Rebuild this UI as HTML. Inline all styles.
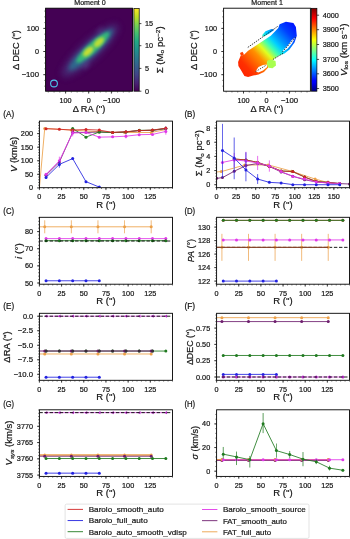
<!DOCTYPE html><html><head><meta charset="utf-8"><style>html,body{margin:0;padding:0;background:#fff;width:350px;height:539px;overflow:hidden}svg{display:block;will-change:transform}text{font-family:"Liberation Sans", sans-serif;stroke:#141414;stroke-width:0.2px}</style></head><body>
<svg width="350" height="539" viewBox="0 0 350 539">
<rect width="350" height="539" fill="#fff"/>
<clipPath id="cA"><rect x="39.4" y="121.1" width="133.1" height="66.6"/></clipPath>
<g clip-path="url(#cA)">
<path d="M39.4,187.9 L44.72,128.44 L71.34,130.07 L97.96,131.7 L124.58,132.51 L151.2,132.51 L165.84,129.53" fill="none" stroke="#eca048" stroke-width="0.85"/>
<circle cx="44.72" cy="128.44" r="1.5" fill="#eca048"/>
<circle cx="71.34" cy="130.07" r="1.5" fill="#eca048"/>
<circle cx="97.96" cy="131.7" r="1.5" fill="#eca048"/>
<circle cx="124.58" cy="132.51" r="1.5" fill="#eca048"/>
<circle cx="151.2" cy="132.51" r="1.5" fill="#eca048"/>
<path d="M46.05,175.14 L59.36,162.11 L72.67,132.24 L85.98,132.51 L99.29,131.97 L112.6,132.51 L125.91,131.97 L139.22,130.61 L152.53,130.34 L165.84,128.71" fill="none" stroke="#6e1e6e" stroke-width="0.85"/>
<line x1="165.84" x2="165.84" y1="131.43" y2="126" stroke="#6e1e6e" stroke-width="0.8" opacity="0.9"/>
<circle cx="46.05" cy="175.14" r="1.5" fill="#6e1e6e"/>
<circle cx="59.36" cy="162.11" r="1.5" fill="#6e1e6e"/>
<circle cx="72.67" cy="132.24" r="1.5" fill="#6e1e6e"/>
<circle cx="85.98" cy="132.51" r="1.5" fill="#6e1e6e"/>
<circle cx="99.29" cy="131.97" r="1.5" fill="#6e1e6e"/>
<circle cx="112.6" cy="132.51" r="1.5" fill="#6e1e6e"/>
<circle cx="125.91" cy="131.97" r="1.5" fill="#6e1e6e"/>
<circle cx="139.22" cy="130.61" r="1.5" fill="#6e1e6e"/>
<circle cx="152.53" cy="130.34" r="1.5" fill="#6e1e6e"/>
<circle cx="165.84" cy="128.71" r="1.5" fill="#6e1e6e"/>
<path d="M72.67,128.44 L85.98,137.13 L99.29,131.97 L112.6,132.62 L125.91,131.97 L139.22,130.34 L152.53,130.21 L165.84,128.44" fill="none" stroke="#207a20" stroke-width="0.85"/>
<circle cx="72.67" cy="128.44" r="1.5" fill="#207a20"/>
<circle cx="85.98" cy="137.13" r="1.5" fill="#207a20"/>
<circle cx="99.29" cy="131.97" r="1.5" fill="#207a20"/>
<circle cx="112.6" cy="132.62" r="1.5" fill="#207a20"/>
<circle cx="125.91" cy="131.97" r="1.5" fill="#207a20"/>
<circle cx="139.22" cy="130.34" r="1.5" fill="#207a20"/>
<circle cx="152.53" cy="130.21" r="1.5" fill="#207a20"/>
<circle cx="165.84" cy="128.44" r="1.5" fill="#207a20"/>
<path d="M46.05,128.71 L59.36,129.26 L72.67,130.07 L85.98,129.53 L99.29,130.07 L112.6,132.51 L125.91,131.7 L139.22,130.61 L152.53,130.07 L165.84,128.17" fill="none" stroke="#d02424" stroke-width="0.85"/>
<circle cx="46.05" cy="128.71" r="1.5" fill="#d02424"/>
<circle cx="59.36" cy="129.26" r="1.5" fill="#d02424"/>
<circle cx="72.67" cy="130.07" r="1.5" fill="#d02424"/>
<circle cx="85.98" cy="129.53" r="1.5" fill="#d02424"/>
<circle cx="99.29" cy="130.07" r="1.5" fill="#d02424"/>
<circle cx="112.6" cy="132.51" r="1.5" fill="#d02424"/>
<circle cx="125.91" cy="131.7" r="1.5" fill="#d02424"/>
<circle cx="139.22" cy="130.61" r="1.5" fill="#d02424"/>
<circle cx="152.53" cy="130.07" r="1.5" fill="#d02424"/>
<circle cx="165.84" cy="128.17" r="1.5" fill="#d02424"/>
<path d="M46.05,174.32 L59.36,160.75 L72.67,133.06 L85.98,132.51 L99.29,137.13 L112.6,136.86 L125.91,136.18 L139.22,134.69 L152.53,134.41 L165.84,131.43" fill="none" stroke="#e038e8" stroke-width="0.85"/>
<line x1="59.36" x2="59.36" y1="164.82" y2="156.68" stroke="#e038e8" stroke-width="0.8" opacity="0.9"/>
<line x1="72.67" x2="72.67" y1="136.31" y2="129.8" stroke="#e038e8" stroke-width="0.8" opacity="0.9"/>
<line x1="125.91" x2="125.91" y1="138.35" y2="134.01" stroke="#e038e8" stroke-width="0.8" opacity="0.9"/>
<line x1="165.84" x2="165.84" y1="134.69" y2="128.17" stroke="#e038e8" stroke-width="0.8" opacity="0.9"/>
<circle cx="46.05" cy="174.32" r="1.5" fill="#e038e8"/>
<circle cx="59.36" cy="160.75" r="1.5" fill="#e038e8"/>
<circle cx="72.67" cy="133.06" r="1.5" fill="#e038e8"/>
<circle cx="85.98" cy="132.51" r="1.5" fill="#e038e8"/>
<circle cx="99.29" cy="137.13" r="1.5" fill="#e038e8"/>
<circle cx="112.6" cy="136.86" r="1.5" fill="#e038e8"/>
<circle cx="125.91" cy="136.18" r="1.5" fill="#e038e8"/>
<circle cx="139.22" cy="134.69" r="1.5" fill="#e038e8"/>
<circle cx="152.53" cy="134.41" r="1.5" fill="#e038e8"/>
<circle cx="165.84" cy="131.43" r="1.5" fill="#e038e8"/>
<path d="M46.05,177.39 L59.36,164.39 L72.67,158.58 L85.98,181.66 L99.29,187.09" fill="none" stroke="#2222e0" stroke-width="0.85"/>
<line x1="46.05" x2="46.05" y1="178.75" y2="176.04" stroke="#2222e0" stroke-width="0.8" opacity="0.9"/>
<line x1="59.36" x2="59.36" y1="167.65" y2="161.13" stroke="#2222e0" stroke-width="0.8" opacity="0.9"/>
<circle cx="46.05" cy="177.39" r="1.5" fill="#2222e0"/>
<circle cx="59.36" cy="164.39" r="1.5" fill="#2222e0"/>
<circle cx="72.67" cy="158.58" r="1.5" fill="#2222e0"/>
<circle cx="85.98" cy="181.66" r="1.5" fill="#2222e0"/>
<circle cx="99.29" cy="187.09" r="1.5" fill="#2222e0"/>
</g>
<rect x="39.4" y="121.1" width="133.1" height="66.6" fill="none" stroke="#000" stroke-width="0.9"/>
<text x="39.4" y="199" font-size="7.0" text-anchor="middle" fill="#141414" textLength="4.04" lengthAdjust="spacingAndGlyphs">0</text>
<text x="61.58" y="199" font-size="7.0" text-anchor="middle" fill="#141414" textLength="8.08" lengthAdjust="spacingAndGlyphs">25</text>
<text x="83.77" y="199" font-size="7.0" text-anchor="middle" fill="#141414" textLength="8.08" lengthAdjust="spacingAndGlyphs">50</text>
<text x="105.95" y="199" font-size="7.0" text-anchor="middle" fill="#141414" textLength="8.08" lengthAdjust="spacingAndGlyphs">75</text>
<text x="128.13" y="199" font-size="7.0" text-anchor="middle" fill="#141414" textLength="12.12" lengthAdjust="spacingAndGlyphs">100</text>
<text x="150.32" y="199" font-size="7.0" text-anchor="middle" fill="#141414" textLength="12.12" lengthAdjust="spacingAndGlyphs">125</text>
<text x="33" y="190.4" font-size="7.0" text-anchor="end" fill="#141414" textLength="4.04" lengthAdjust="spacingAndGlyphs">0</text>
<text x="33" y="176.82" font-size="7.0" text-anchor="end" fill="#141414" textLength="8.08" lengthAdjust="spacingAndGlyphs">50</text>
<text x="33" y="163.25" font-size="7.0" text-anchor="end" fill="#141414" textLength="12.12" lengthAdjust="spacingAndGlyphs">100</text>
<text x="33" y="149.68" font-size="7.0" text-anchor="end" fill="#141414" textLength="12.12" lengthAdjust="spacingAndGlyphs">150</text>
<text x="33" y="136.1" font-size="7.0" text-anchor="end" fill="#141414" textLength="12.12" lengthAdjust="spacingAndGlyphs">200</text>
<path d="M39.4,187.7v2.4 M61.58,187.7v2.4 M83.77,187.7v2.4 M105.95,187.7v2.4 M128.13,187.7v2.4 M150.32,187.7v2.4 M39.4,187.9h-2.4 M39.4,174.32h-2.4 M39.4,160.75h-2.4 M39.4,147.18h-2.4 M39.4,133.6h-2.4" stroke="#000" stroke-width="0.7" fill="none"/>
<path d="M39.4,187.7v1.3 M43.84,187.7v1.3 M48.27,187.7v1.3 M52.71,187.7v1.3 M57.15,187.7v1.3 M61.58,187.7v1.3 M66.02,187.7v1.3 M70.46,187.7v1.3 M74.89,187.7v1.3 M79.33,187.7v1.3 M83.77,187.7v1.3 M88.2,187.7v1.3 M92.64,187.7v1.3 M97.08,187.7v1.3 M101.51,187.7v1.3 M105.95,187.7v1.3 M110.39,187.7v1.3 M114.82,187.7v1.3 M119.26,187.7v1.3 M123.7,187.7v1.3 M128.13,187.7v1.3 M132.57,187.7v1.3 M137.01,187.7v1.3 M141.44,187.7v1.3 M145.88,187.7v1.3 M150.32,187.7v1.3 M154.75,187.7v1.3 M159.19,187.7v1.3 M163.63,187.7v1.3 M168.06,187.7v1.3 M172.5,187.7v1.3 M39.4,185.19h-1.3 M39.4,182.47h-1.3 M39.4,179.75h-1.3 M39.4,177.04h-1.3 M39.4,174.32h-1.3 M39.4,171.61h-1.3 M39.4,168.9h-1.3 M39.4,166.18h-1.3 M39.4,163.47h-1.3 M39.4,160.75h-1.3 M39.4,158.03h-1.3 M39.4,155.32h-1.3 M39.4,152.6h-1.3 M39.4,149.89h-1.3 M39.4,147.18h-1.3 M39.4,144.46h-1.3 M39.4,141.75h-1.3 M39.4,139.03h-1.3 M39.4,136.31h-1.3 M39.4,133.6h-1.3 M39.4,130.88h-1.3 M39.4,128.17h-1.3 M39.4,125.45h-1.3 M39.4,122.74h-1.3" stroke="#222" stroke-width="0.6" fill="none"/>
<text x="105.95" y="207.7" font-size="8.8" text-anchor="middle" fill="#141414" textLength="19.4" lengthAdjust="spacingAndGlyphs">R ('')</text>
<text x="3.3" y="116.8" font-size="8.8" text-anchor="start" fill="#141414" textLength="10.8" lengthAdjust="spacingAndGlyphs">(A)</text>
<text transform="translate(16.7,154.4) rotate(-90)" x="0" y="0" font-size="8.4" text-anchor="middle" fill="#141414" textLength="35.3" lengthAdjust="spacingAndGlyphs"><tspan font-style="italic">V</tspan> (km/s)</text>
<clipPath id="cB"><rect x="216.6" y="121.1" width="132.9" height="66.6"/></clipPath>
<g clip-path="url(#cB)">
<path d="M216.6,171.96 L221.29,171.61 L244.74,165.03 L268.2,164.89 L291.65,171.26 L315.1,179.04 L328,182.58" fill="none" stroke="#eca048" stroke-width="0.85"/>
<circle cx="221.29" cy="171.61" r="1.5" fill="#eca048"/>
<circle cx="244.74" cy="165.03" r="1.5" fill="#eca048"/>
<circle cx="268.2" cy="164.89" r="1.5" fill="#eca048"/>
<circle cx="291.65" cy="171.26" r="1.5" fill="#eca048"/>
<circle cx="315.1" cy="179.04" r="1.5" fill="#eca048"/>
<path d="M216.6,178.33 L222.46,177.62 L234.19,171.26 L245.92,165.6 L257.64,163.47 L269.37,166.31 L281.1,171.96 L292.82,176.21 L304.55,179.75 L316.27,181.87 L328,182.93 L339.73,183.64 L349.5,183.99" fill="none" stroke="#6e1e6e" stroke-width="0.85"/>
<circle cx="216.6" cy="178.33" r="1.5" fill="#6e1e6e"/>
<circle cx="222.46" cy="177.62" r="1.5" fill="#6e1e6e"/>
<circle cx="234.19" cy="171.26" r="1.5" fill="#6e1e6e"/>
<circle cx="245.92" cy="165.6" r="1.5" fill="#6e1e6e"/>
<circle cx="257.64" cy="163.47" r="1.5" fill="#6e1e6e"/>
<circle cx="269.37" cy="166.31" r="1.5" fill="#6e1e6e"/>
<circle cx="281.1" cy="171.96" r="1.5" fill="#6e1e6e"/>
<circle cx="292.82" cy="176.21" r="1.5" fill="#6e1e6e"/>
<circle cx="304.55" cy="179.75" r="1.5" fill="#6e1e6e"/>
<circle cx="316.27" cy="181.87" r="1.5" fill="#6e1e6e"/>
<circle cx="328" cy="182.93" r="1.5" fill="#6e1e6e"/>
<circle cx="339.73" cy="183.64" r="1.5" fill="#6e1e6e"/>
<circle cx="349.5" cy="183.99" r="1.5" fill="#6e1e6e"/>
<path d="M234.19,159.02 L245.92,159.94 L257.64,162.41 L269.37,166.38 L281.1,170.97 L292.82,171.61 L304.55,176.99 L316.27,181.59 L328,182.37 L339.73,183.57" fill="none" stroke="#207a20" stroke-width="0.85"/>
<circle cx="234.19" cy="159.02" r="1.5" fill="#207a20"/>
<circle cx="245.92" cy="159.94" r="1.5" fill="#207a20"/>
<circle cx="257.64" cy="162.41" r="1.5" fill="#207a20"/>
<circle cx="269.37" cy="166.38" r="1.5" fill="#207a20"/>
<circle cx="281.1" cy="170.97" r="1.5" fill="#207a20"/>
<circle cx="292.82" cy="171.61" r="1.5" fill="#207a20"/>
<circle cx="304.55" cy="176.99" r="1.5" fill="#207a20"/>
<circle cx="316.27" cy="181.59" r="1.5" fill="#207a20"/>
<circle cx="328" cy="182.37" r="1.5" fill="#207a20"/>
<circle cx="339.73" cy="183.57" r="1.5" fill="#207a20"/>
<path d="M234.19,159.02 L245.92,159.94 L257.64,162.41 L269.37,166.38 L281.1,170.97 L292.82,171.61 L304.55,176.99 L316.27,181.59 L328,182.37 L339.73,183.57" fill="none" stroke="#d02424" stroke-width="0.85"/>
<circle cx="234.19" cy="159.02" r="1.5" fill="#d02424"/>
<circle cx="245.92" cy="159.94" r="1.5" fill="#d02424"/>
<circle cx="257.64" cy="162.41" r="1.5" fill="#d02424"/>
<circle cx="269.37" cy="166.38" r="1.5" fill="#d02424"/>
<circle cx="281.1" cy="170.97" r="1.5" fill="#d02424"/>
<circle cx="292.82" cy="171.61" r="1.5" fill="#d02424"/>
<circle cx="304.55" cy="176.99" r="1.5" fill="#d02424"/>
<circle cx="316.27" cy="181.59" r="1.5" fill="#d02424"/>
<circle cx="328" cy="182.37" r="1.5" fill="#d02424"/>
<circle cx="339.73" cy="183.57" r="1.5" fill="#d02424"/>
<path d="M222.46,162.41 L234.19,159.94 L245.92,161 L257.64,162.98 L269.37,166.02 L281.1,171.61 L292.82,176.42 L304.55,179.04 L316.27,182.01 L328,183 L339.73,183.57" fill="none" stroke="#e038e8" stroke-width="0.85"/>
<line x1="234.19" x2="234.19" y1="167.01" y2="152.86" stroke="#e038e8" stroke-width="0.8" opacity="0.9"/>
<line x1="245.92" x2="245.92" y1="170.2" y2="151.8" stroke="#e038e8" stroke-width="0.8" opacity="0.9"/>
<line x1="257.64" x2="257.64" y1="170.05" y2="155.9" stroke="#e038e8" stroke-width="0.8" opacity="0.9"/>
<line x1="269.37" x2="269.37" y1="171.68" y2="160.36" stroke="#e038e8" stroke-width="0.8" opacity="0.9"/>
<circle cx="222.46" cy="162.41" r="1.5" fill="#e038e8"/>
<circle cx="234.19" cy="159.94" r="1.5" fill="#e038e8"/>
<circle cx="245.92" cy="161" r="1.5" fill="#e038e8"/>
<circle cx="257.64" cy="162.98" r="1.5" fill="#e038e8"/>
<circle cx="269.37" cy="166.02" r="1.5" fill="#e038e8"/>
<circle cx="281.1" cy="171.61" r="1.5" fill="#e038e8"/>
<circle cx="292.82" cy="176.42" r="1.5" fill="#e038e8"/>
<circle cx="304.55" cy="179.04" r="1.5" fill="#e038e8"/>
<circle cx="316.27" cy="182.01" r="1.5" fill="#e038e8"/>
<circle cx="328" cy="183" r="1.5" fill="#e038e8"/>
<circle cx="339.73" cy="183.57" r="1.5" fill="#e038e8"/>
<path d="M222.46,150.39 L234.19,158.03 L245.92,169.98 L257.64,179.04 L269.37,182.37 L281.1,183 L292.82,184.63 L304.55,184.7 L316.27,184.7 L328,184.7 L339.73,184.7" fill="none" stroke="#2222e0" stroke-width="0.85"/>
<line x1="222.46" x2="222.46" y1="177.98" y2="123.85" stroke="#2222e0" stroke-width="0.8" opacity="0.9"/>
<line x1="234.19" x2="234.19" y1="179.25" y2="137.51" stroke="#2222e0" stroke-width="0.8" opacity="0.9"/>
<line x1="245.92" x2="245.92" y1="181.3" y2="152.3" stroke="#2222e0" stroke-width="0.8" opacity="0.9"/>
<line x1="257.64" x2="257.64" y1="183.99" y2="174.09" stroke="#2222e0" stroke-width="0.8" opacity="0.9"/>
<circle cx="222.46" cy="150.39" r="1.5" fill="#2222e0"/>
<circle cx="234.19" cy="158.03" r="1.5" fill="#2222e0"/>
<circle cx="245.92" cy="169.98" r="1.5" fill="#2222e0"/>
<circle cx="257.64" cy="179.04" r="1.5" fill="#2222e0"/>
<circle cx="269.37" cy="182.37" r="1.5" fill="#2222e0"/>
<circle cx="281.1" cy="183" r="1.5" fill="#2222e0"/>
<circle cx="292.82" cy="184.63" r="1.5" fill="#2222e0"/>
<circle cx="304.55" cy="184.7" r="1.5" fill="#2222e0"/>
<circle cx="316.27" cy="184.7" r="1.5" fill="#2222e0"/>
<circle cx="328" cy="184.7" r="1.5" fill="#2222e0"/>
<circle cx="339.73" cy="184.7" r="1.5" fill="#2222e0"/>
</g>
<rect x="216.6" y="121.1" width="132.9" height="66.6" fill="none" stroke="#000" stroke-width="0.9"/>
<text x="216.6" y="199" font-size="7.0" text-anchor="middle" fill="#141414" textLength="4.04" lengthAdjust="spacingAndGlyphs">0</text>
<text x="236.14" y="199" font-size="7.0" text-anchor="middle" fill="#141414" textLength="8.08" lengthAdjust="spacingAndGlyphs">25</text>
<text x="255.69" y="199" font-size="7.0" text-anchor="middle" fill="#141414" textLength="8.08" lengthAdjust="spacingAndGlyphs">50</text>
<text x="275.23" y="199" font-size="7.0" text-anchor="middle" fill="#141414" textLength="8.08" lengthAdjust="spacingAndGlyphs">75</text>
<text x="294.78" y="199" font-size="7.0" text-anchor="middle" fill="#141414" textLength="12.12" lengthAdjust="spacingAndGlyphs">100</text>
<text x="314.32" y="199" font-size="7.0" text-anchor="middle" fill="#141414" textLength="12.12" lengthAdjust="spacingAndGlyphs">125</text>
<text x="333.86" y="199" font-size="7.0" text-anchor="middle" fill="#141414" textLength="12.12" lengthAdjust="spacingAndGlyphs">150</text>
<text x="210.2" y="187.2" font-size="7.0" text-anchor="end" fill="#141414" textLength="4.04" lengthAdjust="spacingAndGlyphs">0</text>
<text x="210.2" y="173.05" font-size="7.0" text-anchor="end" fill="#141414" textLength="4.04" lengthAdjust="spacingAndGlyphs">2</text>
<text x="210.2" y="158.9" font-size="7.0" text-anchor="end" fill="#141414" textLength="4.04" lengthAdjust="spacingAndGlyphs">4</text>
<text x="210.2" y="144.75" font-size="7.0" text-anchor="end" fill="#141414" textLength="4.04" lengthAdjust="spacingAndGlyphs">6</text>
<text x="210.2" y="130.6" font-size="7.0" text-anchor="end" fill="#141414" textLength="4.04" lengthAdjust="spacingAndGlyphs">8</text>
<path d="M216.6,187.7v2.4 M236.14,187.7v2.4 M255.69,187.7v2.4 M275.23,187.7v2.4 M294.78,187.7v2.4 M314.32,187.7v2.4 M333.86,187.7v2.4 M216.6,184.7h-2.4 M216.6,170.55h-2.4 M216.6,156.4h-2.4 M216.6,142.25h-2.4 M216.6,128.1h-2.4" stroke="#000" stroke-width="0.7" fill="none"/>
<path d="M216.6,187.7v1.3 M220.51,187.7v1.3 M224.42,187.7v1.3 M228.33,187.7v1.3 M232.24,187.7v1.3 M236.14,187.7v1.3 M240.05,187.7v1.3 M243.96,187.7v1.3 M247.87,187.7v1.3 M251.78,187.7v1.3 M255.69,187.7v1.3 M259.6,187.7v1.3 M263.51,187.7v1.3 M267.41,187.7v1.3 M271.32,187.7v1.3 M275.23,187.7v1.3 M279.14,187.7v1.3 M283.05,187.7v1.3 M286.96,187.7v1.3 M290.87,187.7v1.3 M294.78,187.7v1.3 M298.69,187.7v1.3 M302.59,187.7v1.3 M306.5,187.7v1.3 M310.41,187.7v1.3 M314.32,187.7v1.3 M318.23,187.7v1.3 M322.14,187.7v1.3 M326.05,187.7v1.3 M329.96,187.7v1.3 M333.86,187.7v1.3 M337.77,187.7v1.3 M341.68,187.7v1.3 M345.59,187.7v1.3 M349.5,187.7v1.3 M216.6,187.53h-1.3 M216.6,184.7h-1.3 M216.6,181.87h-1.3 M216.6,179.04h-1.3 M216.6,176.21h-1.3 M216.6,173.38h-1.3 M216.6,170.55h-1.3 M216.6,167.72h-1.3 M216.6,164.89h-1.3 M216.6,162.06h-1.3 M216.6,159.23h-1.3 M216.6,156.4h-1.3 M216.6,153.57h-1.3 M216.6,150.74h-1.3 M216.6,147.91h-1.3 M216.6,145.08h-1.3 M216.6,142.25h-1.3 M216.6,139.42h-1.3 M216.6,136.59h-1.3 M216.6,133.76h-1.3 M216.6,130.93h-1.3 M216.6,128.1h-1.3 M216.6,125.27h-1.3 M216.6,122.44h-1.3" stroke="#222" stroke-width="0.6" fill="none"/>
<text x="283.05" y="207.7" font-size="8.8" text-anchor="middle" fill="#141414" textLength="19.4" lengthAdjust="spacingAndGlyphs">R ('')</text>
<text x="184.4" y="116.8" font-size="8.8" text-anchor="start" fill="#141414" textLength="10.8" lengthAdjust="spacingAndGlyphs">(B)</text>
<text transform="translate(202.2,153.2) rotate(-90)" x="0" y="0" font-size="8.4" text-anchor="middle" fill="#141414" textLength="46" lengthAdjust="spacingAndGlyphs">Σ (M<tspan font-size="5.6" dy="1.6">o</tspan><tspan dy="-1.6"> pc</tspan><tspan font-size="5.6" dy="-3">−2</tspan><tspan dy="3">)</tspan></text>
<clipPath id="cC"><rect x="39.4" y="217.3" width="133.1" height="66.9"/></clipPath>
<g clip-path="url(#cC)">
<path d="M39.4,226.8 L44.72,226.8 L71.34,226.8 L97.96,226.8 L124.58,226.8 L151.2,226.8" fill="none" stroke="#eca048" stroke-width="0.85"/>
<line x1="44.72" x2="44.72" y1="233.31" y2="220.29" stroke="#eca048" stroke-width="0.8" opacity="0.9"/>
<line x1="71.34" x2="71.34" y1="233.31" y2="220.29" stroke="#eca048" stroke-width="0.8" opacity="0.9"/>
<line x1="97.96" x2="97.96" y1="233.31" y2="220.29" stroke="#eca048" stroke-width="0.8" opacity="0.9"/>
<line x1="124.58" x2="124.58" y1="233.31" y2="220.29" stroke="#eca048" stroke-width="0.8" opacity="0.9"/>
<line x1="151.2" x2="151.2" y1="233.31" y2="220.29" stroke="#eca048" stroke-width="0.8" opacity="0.9"/>
<circle cx="44.72" cy="226.8" r="1.5" fill="#eca048"/>
<circle cx="71.34" cy="226.8" r="1.5" fill="#eca048"/>
<circle cx="97.96" cy="226.8" r="1.5" fill="#eca048"/>
<circle cx="124.58" cy="226.8" r="1.5" fill="#eca048"/>
<circle cx="151.2" cy="226.8" r="1.5" fill="#eca048"/>
<path d="M46.05,238.62 L59.36,238.62 L72.67,238.62 L85.98,238.62 L99.29,238.62 L112.6,238.62 L125.91,238.62 L139.22,238.62 L152.53,238.62 L165.84,238.62" fill="none" stroke="#e038e8" stroke-width="0.85"/>
<circle cx="46.05" cy="238.62" r="1.5" fill="#e038e8"/>
<circle cx="59.36" cy="238.62" r="1.5" fill="#e038e8"/>
<circle cx="72.67" cy="238.62" r="1.5" fill="#e038e8"/>
<circle cx="85.98" cy="238.62" r="1.5" fill="#e038e8"/>
<circle cx="99.29" cy="238.62" r="1.5" fill="#e038e8"/>
<circle cx="112.6" cy="238.62" r="1.5" fill="#e038e8"/>
<circle cx="125.91" cy="238.62" r="1.5" fill="#e038e8"/>
<circle cx="139.22" cy="238.62" r="1.5" fill="#e038e8"/>
<circle cx="152.53" cy="238.62" r="1.5" fill="#e038e8"/>
<circle cx="165.84" cy="238.62" r="1.5" fill="#e038e8"/>
<path d="M46.05,240.68 L59.36,240.68 L72.67,240.68 L85.98,240.68 L99.29,240.68 L112.6,240.68 L125.91,240.68 L139.22,240.68 L152.53,240.68 L165.84,240.68" fill="none" stroke="#207a20" stroke-width="0.85"/>
<circle cx="46.05" cy="240.68" r="1.5" fill="#207a20"/>
<circle cx="59.36" cy="240.68" r="1.5" fill="#207a20"/>
<circle cx="72.67" cy="240.68" r="1.5" fill="#207a20"/>
<circle cx="85.98" cy="240.68" r="1.5" fill="#207a20"/>
<circle cx="99.29" cy="240.68" r="1.5" fill="#207a20"/>
<circle cx="112.6" cy="240.68" r="1.5" fill="#207a20"/>
<circle cx="125.91" cy="240.68" r="1.5" fill="#207a20"/>
<circle cx="139.22" cy="240.68" r="1.5" fill="#207a20"/>
<circle cx="152.53" cy="240.68" r="1.5" fill="#207a20"/>
<circle cx="165.84" cy="240.68" r="1.5" fill="#207a20"/>
<path d="M46.05,280.77 L59.36,280.77 L72.67,280.77 L85.98,280.77 L99.29,280.77" fill="none" stroke="#2222e0" stroke-width="0.85"/>
<circle cx="46.05" cy="280.77" r="1.5" fill="#2222e0"/>
<circle cx="59.36" cy="280.77" r="1.5" fill="#2222e0"/>
<circle cx="72.67" cy="280.77" r="1.5" fill="#2222e0"/>
<circle cx="85.98" cy="280.77" r="1.5" fill="#2222e0"/>
<circle cx="99.29" cy="280.77" r="1.5" fill="#2222e0"/>
<line x1="39.4" x2="172.5" y1="241.02" y2="241.02" stroke="#000" stroke-width="0.9" stroke-dasharray="3.4,1.7"/>
</g>
<rect x="39.4" y="217.3" width="133.1" height="66.9" fill="none" stroke="#000" stroke-width="0.9"/>
<text x="39.4" y="295.5" font-size="7.0" text-anchor="middle" fill="#141414" textLength="4.04" lengthAdjust="spacingAndGlyphs">0</text>
<text x="61.58" y="295.5" font-size="7.0" text-anchor="middle" fill="#141414" textLength="8.08" lengthAdjust="spacingAndGlyphs">25</text>
<text x="83.77" y="295.5" font-size="7.0" text-anchor="middle" fill="#141414" textLength="8.08" lengthAdjust="spacingAndGlyphs">50</text>
<text x="105.95" y="295.5" font-size="7.0" text-anchor="middle" fill="#141414" textLength="8.08" lengthAdjust="spacingAndGlyphs">75</text>
<text x="128.13" y="295.5" font-size="7.0" text-anchor="middle" fill="#141414" textLength="12.12" lengthAdjust="spacingAndGlyphs">100</text>
<text x="150.32" y="295.5" font-size="7.0" text-anchor="middle" fill="#141414" textLength="12.12" lengthAdjust="spacingAndGlyphs">125</text>
<text x="33" y="285.5" font-size="7.0" text-anchor="end" fill="#141414" textLength="8.08" lengthAdjust="spacingAndGlyphs">50</text>
<text x="33" y="268.37" font-size="7.0" text-anchor="end" fill="#141414" textLength="8.08" lengthAdjust="spacingAndGlyphs">60</text>
<text x="33" y="251.23" font-size="7.0" text-anchor="end" fill="#141414" textLength="8.08" lengthAdjust="spacingAndGlyphs">70</text>
<text x="33" y="234.1" font-size="7.0" text-anchor="end" fill="#141414" textLength="8.08" lengthAdjust="spacingAndGlyphs">80</text>
<path d="M39.4,284.2v2.4 M61.58,284.2v2.4 M83.77,284.2v2.4 M105.95,284.2v2.4 M128.13,284.2v2.4 M150.32,284.2v2.4 M39.4,283h-2.4 M39.4,265.87h-2.4 M39.4,248.73h-2.4 M39.4,231.6h-2.4" stroke="#000" stroke-width="0.7" fill="none"/>
<path d="M39.4,284.2v1.3 M43.84,284.2v1.3 M48.27,284.2v1.3 M52.71,284.2v1.3 M57.15,284.2v1.3 M61.58,284.2v1.3 M66.02,284.2v1.3 M70.46,284.2v1.3 M74.89,284.2v1.3 M79.33,284.2v1.3 M83.77,284.2v1.3 M88.2,284.2v1.3 M92.64,284.2v1.3 M97.08,284.2v1.3 M101.51,284.2v1.3 M105.95,284.2v1.3 M110.39,284.2v1.3 M114.82,284.2v1.3 M119.26,284.2v1.3 M123.7,284.2v1.3 M128.13,284.2v1.3 M132.57,284.2v1.3 M137.01,284.2v1.3 M141.44,284.2v1.3 M145.88,284.2v1.3 M150.32,284.2v1.3 M154.75,284.2v1.3 M159.19,284.2v1.3 M163.63,284.2v1.3 M168.06,284.2v1.3 M172.5,284.2v1.3 M39.4,283h-1.3 M39.4,279.57h-1.3 M39.4,276.15h-1.3 M39.4,272.72h-1.3 M39.4,269.29h-1.3 M39.4,265.87h-1.3 M39.4,262.44h-1.3 M39.4,259.01h-1.3 M39.4,255.59h-1.3 M39.4,252.16h-1.3 M39.4,248.73h-1.3 M39.4,245.31h-1.3 M39.4,241.88h-1.3 M39.4,238.45h-1.3 M39.4,235.03h-1.3 M39.4,231.6h-1.3 M39.4,228.17h-1.3 M39.4,224.75h-1.3 M39.4,221.32h-1.3 M39.4,217.89h-1.3" stroke="#222" stroke-width="0.6" fill="none"/>
<text x="105.95" y="304.2" font-size="8.8" text-anchor="middle" fill="#141414" textLength="19.4" lengthAdjust="spacingAndGlyphs">R ('')</text>
<text x="3.3" y="213.7" font-size="8.8" text-anchor="start" fill="#141414" textLength="10.8" lengthAdjust="spacingAndGlyphs">(C)</text>
<text transform="translate(21.6,251.1) rotate(-90)" x="0" y="0" font-size="8.4" text-anchor="middle" fill="#141414" textLength="15.8" lengthAdjust="spacingAndGlyphs"><tspan font-style="italic">i</tspan> (°)</text>
<clipPath id="cD"><rect x="216.6" y="217.3" width="132.9" height="66.9"/></clipPath>
<g clip-path="url(#cD)">
<line x1="216.6" x2="349.5" y1="247.35" y2="247.35" stroke="#000" stroke-width="0.9" stroke-dasharray="3.4,1.7"/>
<path d="M216.6,247.35 L221.92,247.35 L248.5,247.35 L275.08,247.35 L301.66,247.35 L328.24,247.35" fill="none" stroke="#eca048" stroke-width="0.85"/>
<line x1="221.92" x2="221.92" y1="260.85" y2="233.85" stroke="#eca048" stroke-width="0.8" opacity="0.9"/>
<line x1="248.5" x2="248.5" y1="260.85" y2="233.85" stroke="#eca048" stroke-width="0.8" opacity="0.9"/>
<line x1="275.08" x2="275.08" y1="260.85" y2="233.85" stroke="#eca048" stroke-width="0.8" opacity="0.9"/>
<line x1="301.66" x2="301.66" y1="260.85" y2="233.85" stroke="#eca048" stroke-width="0.8" opacity="0.9"/>
<line x1="328.24" x2="328.24" y1="260.85" y2="233.85" stroke="#eca048" stroke-width="0.8" opacity="0.9"/>
<circle cx="221.92" cy="247.35" r="1.5" fill="#eca048"/>
<circle cx="248.5" cy="247.35" r="1.5" fill="#eca048"/>
<circle cx="275.08" cy="247.35" r="1.5" fill="#eca048"/>
<circle cx="301.66" cy="247.35" r="1.5" fill="#eca048"/>
<circle cx="328.24" cy="247.35" r="1.5" fill="#eca048"/>
<path d="M216.6,247.35 L221.92,247.35 L248.5,247.35 L275.08,247.35 L301.66,247.35 L328.24,247.35" fill="none" stroke="#7a3a2a" stroke-width="1.0"/>
<path d="M223.25,220.35 L236.53,220.35 L249.82,220.35 L263.12,220.35 L276.4,220.35 L289.69,220.35 L302.99,220.35 L316.27,220.35 L329.56,220.35 L342.86,220.35" fill="none" stroke="#d02424" stroke-width="0.85"/>
<circle cx="223.25" cy="220.35" r="1.5" fill="#d02424"/>
<circle cx="236.53" cy="220.35" r="1.5" fill="#d02424"/>
<circle cx="249.82" cy="220.35" r="1.5" fill="#d02424"/>
<circle cx="263.12" cy="220.35" r="1.5" fill="#d02424"/>
<circle cx="276.4" cy="220.35" r="1.5" fill="#d02424"/>
<circle cx="289.69" cy="220.35" r="1.5" fill="#d02424"/>
<circle cx="302.99" cy="220.35" r="1.5" fill="#d02424"/>
<circle cx="316.27" cy="220.35" r="1.5" fill="#d02424"/>
<circle cx="329.56" cy="220.35" r="1.5" fill="#d02424"/>
<circle cx="342.86" cy="220.35" r="1.5" fill="#d02424"/>
<path d="M223.25,220.35 L236.53,220.35 L249.82,220.35 L263.12,220.35 L276.4,220.35 L289.69,220.35 L302.99,220.35 L316.27,220.35 L329.56,220.35 L342.86,220.35" fill="none" stroke="#207a20" stroke-width="0.85"/>
<circle cx="223.25" cy="220.35" r="1.5" fill="#207a20"/>
<circle cx="236.53" cy="220.35" r="1.5" fill="#207a20"/>
<circle cx="249.82" cy="220.35" r="1.5" fill="#207a20"/>
<circle cx="263.12" cy="220.35" r="1.5" fill="#207a20"/>
<circle cx="276.4" cy="220.35" r="1.5" fill="#207a20"/>
<circle cx="289.69" cy="220.35" r="1.5" fill="#207a20"/>
<circle cx="302.99" cy="220.35" r="1.5" fill="#207a20"/>
<circle cx="316.27" cy="220.35" r="1.5" fill="#207a20"/>
<circle cx="329.56" cy="220.35" r="1.5" fill="#207a20"/>
<circle cx="342.86" cy="220.35" r="1.5" fill="#207a20"/>
<path d="M223.25,239.93 L236.53,239.93 L249.82,239.93 L263.12,239.93 L276.4,239.93 L289.69,239.93 L302.99,239.93 L316.27,239.93 L329.56,239.93 L342.86,239.93" fill="none" stroke="#e038e8" stroke-width="0.85"/>
<circle cx="223.25" cy="239.93" r="1.5" fill="#e038e8"/>
<circle cx="236.53" cy="239.93" r="1.5" fill="#e038e8"/>
<circle cx="249.82" cy="239.93" r="1.5" fill="#e038e8"/>
<circle cx="263.12" cy="239.93" r="1.5" fill="#e038e8"/>
<circle cx="276.4" cy="239.93" r="1.5" fill="#e038e8"/>
<circle cx="289.69" cy="239.93" r="1.5" fill="#e038e8"/>
<circle cx="302.99" cy="239.93" r="1.5" fill="#e038e8"/>
<circle cx="316.27" cy="239.93" r="1.5" fill="#e038e8"/>
<circle cx="329.56" cy="239.93" r="1.5" fill="#e038e8"/>
<circle cx="342.86" cy="239.93" r="1.5" fill="#e038e8"/>
<path d="M223.25,281.1 L236.53,281.1 L249.82,281.1 L263.12,281.1 L276.4,281.1" fill="none" stroke="#2222e0" stroke-width="0.85"/>
<circle cx="223.25" cy="281.1" r="1.5" fill="#2222e0"/>
<circle cx="236.53" cy="281.1" r="1.5" fill="#2222e0"/>
<circle cx="249.82" cy="281.1" r="1.5" fill="#2222e0"/>
<circle cx="263.12" cy="281.1" r="1.5" fill="#2222e0"/>
<circle cx="276.4" cy="281.1" r="1.5" fill="#2222e0"/>
</g>
<rect x="216.6" y="217.3" width="132.9" height="66.9" fill="none" stroke="#000" stroke-width="0.9"/>
<text x="216.6" y="295.5" font-size="7.0" text-anchor="middle" fill="#141414" textLength="4.04" lengthAdjust="spacingAndGlyphs">0</text>
<text x="238.75" y="295.5" font-size="7.0" text-anchor="middle" fill="#141414" textLength="8.08" lengthAdjust="spacingAndGlyphs">25</text>
<text x="260.9" y="295.5" font-size="7.0" text-anchor="middle" fill="#141414" textLength="8.08" lengthAdjust="spacingAndGlyphs">50</text>
<text x="283.05" y="295.5" font-size="7.0" text-anchor="middle" fill="#141414" textLength="8.08" lengthAdjust="spacingAndGlyphs">75</text>
<text x="305.2" y="295.5" font-size="7.0" text-anchor="middle" fill="#141414" textLength="12.12" lengthAdjust="spacingAndGlyphs">100</text>
<text x="327.35" y="295.5" font-size="7.0" text-anchor="middle" fill="#141414" textLength="12.12" lengthAdjust="spacingAndGlyphs">125</text>
<text x="210.2" y="283.6" font-size="7.0" text-anchor="end" fill="#141414" textLength="12.12" lengthAdjust="spacingAndGlyphs">122</text>
<text x="210.2" y="270.1" font-size="7.0" text-anchor="end" fill="#141414" textLength="12.12" lengthAdjust="spacingAndGlyphs">124</text>
<text x="210.2" y="256.6" font-size="7.0" text-anchor="end" fill="#141414" textLength="12.12" lengthAdjust="spacingAndGlyphs">126</text>
<text x="210.2" y="243.1" font-size="7.0" text-anchor="end" fill="#141414" textLength="12.12" lengthAdjust="spacingAndGlyphs">128</text>
<text x="210.2" y="229.6" font-size="7.0" text-anchor="end" fill="#141414" textLength="12.12" lengthAdjust="spacingAndGlyphs">130</text>
<path d="M216.6,284.2v2.4 M238.75,284.2v2.4 M260.9,284.2v2.4 M283.05,284.2v2.4 M305.2,284.2v2.4 M327.35,284.2v2.4 M216.6,281.1h-2.4 M216.6,267.6h-2.4 M216.6,254.1h-2.4 M216.6,240.6h-2.4 M216.6,227.1h-2.4" stroke="#000" stroke-width="0.7" fill="none"/>
<path d="M216.6,284.2v1.3 M221.03,284.2v1.3 M225.46,284.2v1.3 M229.89,284.2v1.3 M234.32,284.2v1.3 M238.75,284.2v1.3 M243.18,284.2v1.3 M247.61,284.2v1.3 M252.04,284.2v1.3 M256.47,284.2v1.3 M260.9,284.2v1.3 M265.33,284.2v1.3 M269.76,284.2v1.3 M274.19,284.2v1.3 M278.62,284.2v1.3 M283.05,284.2v1.3 M287.48,284.2v1.3 M291.91,284.2v1.3 M296.34,284.2v1.3 M300.77,284.2v1.3 M305.2,284.2v1.3 M309.63,284.2v1.3 M314.06,284.2v1.3 M318.49,284.2v1.3 M322.92,284.2v1.3 M327.35,284.2v1.3 M331.78,284.2v1.3 M336.21,284.2v1.3 M340.64,284.2v1.3 M345.07,284.2v1.3 M349.5,284.2v1.3 M216.6,283.8h-1.3 M216.6,281.1h-1.3 M216.6,278.4h-1.3 M216.6,275.7h-1.3 M216.6,273h-1.3 M216.6,270.3h-1.3 M216.6,267.6h-1.3 M216.6,264.9h-1.3 M216.6,262.2h-1.3 M216.6,259.5h-1.3 M216.6,256.8h-1.3 M216.6,254.1h-1.3 M216.6,251.4h-1.3 M216.6,248.7h-1.3 M216.6,246h-1.3 M216.6,243.3h-1.3 M216.6,240.6h-1.3 M216.6,237.9h-1.3 M216.6,235.2h-1.3 M216.6,232.5h-1.3 M216.6,229.8h-1.3 M216.6,227.1h-1.3 M216.6,224.4h-1.3 M216.6,221.7h-1.3 M216.6,219h-1.3" stroke="#222" stroke-width="0.6" fill="none"/>
<text x="283.05" y="304.2" font-size="8.8" text-anchor="middle" fill="#141414" textLength="19.4" lengthAdjust="spacingAndGlyphs">R ('')</text>
<text x="184.4" y="213.7" font-size="8.8" text-anchor="start" fill="#141414" textLength="10.8" lengthAdjust="spacingAndGlyphs">(D)</text>
<text transform="translate(194.2,250.7) rotate(-90)" x="0" y="0" font-size="8.4" text-anchor="middle" fill="#141414" textLength="23.3" lengthAdjust="spacingAndGlyphs"><tspan font-style="italic">PA</tspan> (°)</text>
<clipPath id="cE"><rect x="39.4" y="313.3" width="133.1" height="67"/></clipPath>
<g clip-path="url(#cE)">
<path d="M39.4,353.97 L44.72,353.97 L71.34,353.97 L97.96,353.97 L124.58,353.97 L151.2,353.97" fill="none" stroke="#eca048" stroke-width="0.85"/>
<circle cx="44.72" cy="353.97" r="1.5" fill="#eca048"/>
<circle cx="71.34" cy="353.97" r="1.5" fill="#eca048"/>
<circle cx="97.96" cy="353.97" r="1.5" fill="#eca048"/>
<circle cx="124.58" cy="353.97" r="1.5" fill="#eca048"/>
<circle cx="151.2" cy="353.97" r="1.5" fill="#eca048"/>
<path d="M46.05,351.06 L59.36,351.06 L72.67,351.06 L85.98,351.06 L99.29,351.06 L112.6,351.06 L125.91,351.06 L139.22,351.06 L152.53,351.06 L165.84,351.06" fill="none" stroke="#207a20" stroke-width="0.85"/>
<circle cx="46.05" cy="351.06" r="1.5" fill="#207a20"/>
<circle cx="59.36" cy="351.06" r="1.5" fill="#207a20"/>
<circle cx="72.67" cy="351.06" r="1.5" fill="#207a20"/>
<circle cx="85.98" cy="351.06" r="1.5" fill="#207a20"/>
<circle cx="99.29" cy="351.06" r="1.5" fill="#207a20"/>
<circle cx="112.6" cy="351.06" r="1.5" fill="#207a20"/>
<circle cx="125.91" cy="351.06" r="1.5" fill="#207a20"/>
<circle cx="139.22" cy="351.06" r="1.5" fill="#207a20"/>
<circle cx="152.53" cy="351.06" r="1.5" fill="#207a20"/>
<circle cx="165.84" cy="351.06" r="1.5" fill="#207a20"/>
<path d="M39.4,351.06 L44.72,351.06 L71.34,351.06 L97.96,351.06 L124.58,351.06 L151.2,351.06" fill="none" stroke="#6e1e6e" stroke-width="1.1"/>
<circle cx="44.72" cy="351.06" r="1.5" fill="#6e1e6e"/>
<circle cx="71.34" cy="351.06" r="1.5" fill="#6e1e6e"/>
<circle cx="97.96" cy="351.06" r="1.5" fill="#6e1e6e"/>
<circle cx="124.58" cy="351.06" r="1.5" fill="#6e1e6e"/>
<circle cx="151.2" cy="351.06" r="1.5" fill="#6e1e6e"/>
<circle cx="46.05" cy="351.06" r="1.5" fill="#3a2a3a"/>
<circle cx="59.36" cy="351.06" r="1.5" fill="#3a2a3a"/>
<circle cx="72.67" cy="351.06" r="1.5" fill="#3a2a3a"/>
<circle cx="85.98" cy="351.06" r="1.5" fill="#3a2a3a"/>
<circle cx="99.29" cy="351.06" r="1.5" fill="#3a2a3a"/>
<circle cx="112.6" cy="351.06" r="1.5" fill="#3a2a3a"/>
<circle cx="125.91" cy="351.06" r="1.5" fill="#3a2a3a"/>
<circle cx="139.22" cy="351.06" r="1.5" fill="#3a2a3a"/>
<circle cx="152.53" cy="351.06" r="1.5" fill="#3a2a3a"/>
<path d="M46.05,316.2 L59.36,316.2 L72.67,316.2 L85.98,316.2 L99.29,316.2 L112.6,316.2 L125.91,316.2 L139.22,316.2 L152.53,316.2 L165.84,316.2" fill="none" stroke="#e038e8" stroke-width="0.7"/>
<path d="M44.26,316.2 L47.26,314.6 L47.26,317.8 Z" fill="#b82cc8"/>
<path d="M57.56,316.2 L60.56,314.6 L60.56,317.8 Z" fill="#b82cc8"/>
<path d="M70.88,316.2 L73.88,314.6 L73.88,317.8 Z" fill="#b82cc8"/>
<path d="M84.19,316.2 L87.19,314.6 L87.19,317.8 Z" fill="#b82cc8"/>
<path d="M97.49,316.2 L100.49,314.6 L100.49,317.8 Z" fill="#b82cc8"/>
<path d="M110.8,316.2 L113.8,314.6 L113.8,317.8 Z" fill="#b82cc8"/>
<path d="M124.11,316.2 L127.11,314.6 L127.11,317.8 Z" fill="#b82cc8"/>
<path d="M137.42,316.2 L140.42,314.6 L140.42,317.8 Z" fill="#b82cc8"/>
<path d="M150.73,316.2 L153.73,314.6 L153.73,317.8 Z" fill="#b82cc8"/>
<path d="M164.04,316.2 L167.04,314.6 L167.04,317.8 Z" fill="#b82cc8"/>
<path d="M46.05,377.21 L59.36,377.21 L72.67,377.21 L85.98,377.21 L99.29,377.21" fill="none" stroke="#2222e0" stroke-width="0.85"/>
<circle cx="46.05" cy="377.21" r="1.5" fill="#2222e0"/>
<circle cx="59.36" cy="377.21" r="1.5" fill="#2222e0"/>
<circle cx="72.67" cy="377.21" r="1.5" fill="#2222e0"/>
<circle cx="85.98" cy="377.21" r="1.5" fill="#2222e0"/>
<circle cx="99.29" cy="377.21" r="1.5" fill="#2222e0"/>
<line x1="39.4" x2="172.5" y1="316.2" y2="316.2" stroke="#000" stroke-width="0.9" stroke-dasharray="3.4,1.7"/>
</g>
<rect x="39.4" y="313.3" width="133.1" height="67" fill="none" stroke="#000" stroke-width="0.9"/>
<text x="39.4" y="391.6" font-size="7.0" text-anchor="middle" fill="#141414" textLength="4.04" lengthAdjust="spacingAndGlyphs">0</text>
<text x="61.58" y="391.6" font-size="7.0" text-anchor="middle" fill="#141414" textLength="8.08" lengthAdjust="spacingAndGlyphs">25</text>
<text x="83.77" y="391.6" font-size="7.0" text-anchor="middle" fill="#141414" textLength="8.08" lengthAdjust="spacingAndGlyphs">50</text>
<text x="105.95" y="391.6" font-size="7.0" text-anchor="middle" fill="#141414" textLength="8.08" lengthAdjust="spacingAndGlyphs">75</text>
<text x="128.13" y="391.6" font-size="7.0" text-anchor="middle" fill="#141414" textLength="12.12" lengthAdjust="spacingAndGlyphs">100</text>
<text x="150.32" y="391.6" font-size="7.0" text-anchor="middle" fill="#141414" textLength="12.12" lengthAdjust="spacingAndGlyphs">125</text>
<text x="33" y="376.8" font-size="7.0" text-anchor="end" fill="#141414" textLength="19.46" lengthAdjust="spacingAndGlyphs">−10.0</text>
<text x="33" y="362.27" font-size="7.0" text-anchor="end" fill="#141414" textLength="15.42" lengthAdjust="spacingAndGlyphs">−7.5</text>
<text x="33" y="347.75" font-size="7.0" text-anchor="end" fill="#141414" textLength="15.42" lengthAdjust="spacingAndGlyphs">−5.0</text>
<text x="33" y="333.23" font-size="7.0" text-anchor="end" fill="#141414" textLength="15.42" lengthAdjust="spacingAndGlyphs">−2.5</text>
<text x="33" y="318.7" font-size="7.0" text-anchor="end" fill="#141414" textLength="10.1" lengthAdjust="spacingAndGlyphs">0.0</text>
<path d="M39.4,380.3v2.4 M61.58,380.3v2.4 M83.77,380.3v2.4 M105.95,380.3v2.4 M128.13,380.3v2.4 M150.32,380.3v2.4 M39.4,374.3h-2.4 M39.4,359.77h-2.4 M39.4,345.25h-2.4 M39.4,330.73h-2.4 M39.4,316.2h-2.4" stroke="#000" stroke-width="0.7" fill="none"/>
<path d="M39.4,380.3v1.3 M43.84,380.3v1.3 M48.27,380.3v1.3 M52.71,380.3v1.3 M57.15,380.3v1.3 M61.58,380.3v1.3 M66.02,380.3v1.3 M70.46,380.3v1.3 M74.89,380.3v1.3 M79.33,380.3v1.3 M83.77,380.3v1.3 M88.2,380.3v1.3 M92.64,380.3v1.3 M97.08,380.3v1.3 M101.51,380.3v1.3 M105.95,380.3v1.3 M110.39,380.3v1.3 M114.82,380.3v1.3 M119.26,380.3v1.3 M123.7,380.3v1.3 M128.13,380.3v1.3 M132.57,380.3v1.3 M137.01,380.3v1.3 M141.44,380.3v1.3 M145.88,380.3v1.3 M150.32,380.3v1.3 M154.75,380.3v1.3 M159.19,380.3v1.3 M163.63,380.3v1.3 M168.06,380.3v1.3 M172.5,380.3v1.3 M39.4,380.11h-1.3 M39.4,377.21h-1.3 M39.4,374.3h-1.3 M39.4,371.39h-1.3 M39.4,368.49h-1.3 M39.4,365.59h-1.3 M39.4,362.68h-1.3 M39.4,359.77h-1.3 M39.4,356.87h-1.3 M39.4,353.97h-1.3 M39.4,351.06h-1.3 M39.4,348.15h-1.3 M39.4,345.25h-1.3 M39.4,342.35h-1.3 M39.4,339.44h-1.3 M39.4,336.53h-1.3 M39.4,333.63h-1.3 M39.4,330.73h-1.3 M39.4,327.82h-1.3 M39.4,324.91h-1.3 M39.4,322.01h-1.3 M39.4,319.11h-1.3 M39.4,316.2h-1.3" stroke="#222" stroke-width="0.6" fill="none"/>
<text x="105.95" y="400.3" font-size="8.8" text-anchor="middle" fill="#141414" textLength="19.4" lengthAdjust="spacingAndGlyphs">R ('')</text>
<text x="3.3" y="309" font-size="8.8" text-anchor="start" fill="#141414" textLength="10.8" lengthAdjust="spacingAndGlyphs">(E)</text>
<text transform="translate(9.9,347) rotate(-90)" x="0" y="0" font-size="8.4" text-anchor="middle" fill="#141414" textLength="31.3" lengthAdjust="spacingAndGlyphs">ΔRA ('')</text>
<clipPath id="cF"><rect x="216.6" y="313.3" width="132.9" height="67"/></clipPath>
<g clip-path="url(#cF)">
<path d="M216.6,317.67 L221.92,317.67 L248.5,317.67 L275.08,317.67 L301.66,317.67 L328.24,317.67" fill="none" stroke="#eca048" stroke-width="0.85"/>
<circle cx="221.92" cy="317.67" r="1.5" fill="#eca048"/>
<circle cx="248.5" cy="317.67" r="1.5" fill="#eca048"/>
<circle cx="275.08" cy="317.67" r="1.5" fill="#eca048"/>
<circle cx="301.66" cy="317.67" r="1.5" fill="#eca048"/>
<circle cx="328.24" cy="317.67" r="1.5" fill="#eca048"/>
<path d="M216.6,321.58 L221.92,321.58 L248.5,321.58 L275.08,321.58 L301.66,321.58 L328.24,321.58" fill="none" stroke="#6e1e6e" stroke-width="0.85"/>
<circle cx="221.92" cy="321.58" r="1.5" fill="#6e1e6e"/>
<circle cx="248.5" cy="321.58" r="1.5" fill="#6e1e6e"/>
<circle cx="275.08" cy="321.58" r="1.5" fill="#6e1e6e"/>
<circle cx="301.66" cy="321.58" r="1.5" fill="#6e1e6e"/>
<circle cx="328.24" cy="321.58" r="1.5" fill="#6e1e6e"/>
<path d="M223.25,355.48 L236.53,355.48 L249.82,355.48 L263.12,355.48 L276.4,355.48 L289.69,355.48 L302.99,355.48 L316.27,355.48 L329.56,355.48 L342.86,355.48" fill="none" stroke="#207a20" stroke-width="0.85"/>
<circle cx="223.25" cy="355.48" r="1.5" fill="#207a20"/>
<circle cx="236.53" cy="355.48" r="1.5" fill="#207a20"/>
<circle cx="249.82" cy="355.48" r="1.5" fill="#207a20"/>
<circle cx="263.12" cy="355.48" r="1.5" fill="#207a20"/>
<circle cx="276.4" cy="355.48" r="1.5" fill="#207a20"/>
<circle cx="289.69" cy="355.48" r="1.5" fill="#207a20"/>
<circle cx="302.99" cy="355.48" r="1.5" fill="#207a20"/>
<circle cx="316.27" cy="355.48" r="1.5" fill="#207a20"/>
<circle cx="329.56" cy="355.48" r="1.5" fill="#207a20"/>
<circle cx="342.86" cy="355.48" r="1.5" fill="#207a20"/>
<path d="M223.25,374.39 L236.53,374.39 L249.82,374.39 L263.12,374.39 L276.4,374.39" fill="none" stroke="#2222e0" stroke-width="0.85"/>
<circle cx="223.25" cy="374.39" r="1.5" fill="#2222e0"/>
<circle cx="236.53" cy="374.39" r="1.5" fill="#2222e0"/>
<circle cx="249.82" cy="374.39" r="1.5" fill="#2222e0"/>
<circle cx="263.12" cy="374.39" r="1.5" fill="#2222e0"/>
<circle cx="276.4" cy="374.39" r="1.5" fill="#2222e0"/>
<path d="M223.25,377 L236.53,377 L249.82,377 L263.12,377 L276.4,377 L289.69,377 L302.99,377 L316.27,377 L329.56,377 L342.86,377" fill="none" stroke="#e038e8" stroke-width="0.7"/>
<circle cx="223.25" cy="377" r="1.5" fill="#b82cc8"/>
<circle cx="236.53" cy="377" r="1.5" fill="#b82cc8"/>
<circle cx="249.82" cy="377" r="1.5" fill="#b82cc8"/>
<circle cx="263.12" cy="377" r="1.5" fill="#b82cc8"/>
<circle cx="276.4" cy="377" r="1.5" fill="#b82cc8"/>
<circle cx="289.69" cy="377" r="1.5" fill="#b82cc8"/>
<circle cx="302.99" cy="377" r="1.5" fill="#b82cc8"/>
<circle cx="316.27" cy="377" r="1.5" fill="#b82cc8"/>
<circle cx="329.56" cy="377" r="1.5" fill="#b82cc8"/>
<circle cx="342.86" cy="377" r="1.5" fill="#b82cc8"/>
<line x1="216.6" x2="349.5" y1="377" y2="377" stroke="#000" stroke-width="0.9" stroke-dasharray="3.4,1.7"/>
</g>
<rect x="216.6" y="313.3" width="132.9" height="67" fill="none" stroke="#000" stroke-width="0.9"/>
<text x="216.6" y="391.6" font-size="7.0" text-anchor="middle" fill="#141414" textLength="4.04" lengthAdjust="spacingAndGlyphs">0</text>
<text x="238.75" y="391.6" font-size="7.0" text-anchor="middle" fill="#141414" textLength="8.08" lengthAdjust="spacingAndGlyphs">25</text>
<text x="260.9" y="391.6" font-size="7.0" text-anchor="middle" fill="#141414" textLength="8.08" lengthAdjust="spacingAndGlyphs">50</text>
<text x="283.05" y="391.6" font-size="7.0" text-anchor="middle" fill="#141414" textLength="8.08" lengthAdjust="spacingAndGlyphs">75</text>
<text x="305.2" y="391.6" font-size="7.0" text-anchor="middle" fill="#141414" textLength="12.12" lengthAdjust="spacingAndGlyphs">100</text>
<text x="327.35" y="391.6" font-size="7.0" text-anchor="middle" fill="#141414" textLength="12.12" lengthAdjust="spacingAndGlyphs">125</text>
<text x="210.2" y="379.5" font-size="7.0" text-anchor="end" fill="#141414" textLength="14.14" lengthAdjust="spacingAndGlyphs">0.00</text>
<text x="210.2" y="363.2" font-size="7.0" text-anchor="end" fill="#141414" textLength="14.14" lengthAdjust="spacingAndGlyphs">0.25</text>
<text x="210.2" y="346.9" font-size="7.0" text-anchor="end" fill="#141414" textLength="14.14" lengthAdjust="spacingAndGlyphs">0.50</text>
<text x="210.2" y="330.6" font-size="7.0" text-anchor="end" fill="#141414" textLength="14.14" lengthAdjust="spacingAndGlyphs">0.75</text>
<path d="M216.6,380.3v2.4 M238.75,380.3v2.4 M260.9,380.3v2.4 M283.05,380.3v2.4 M305.2,380.3v2.4 M327.35,380.3v2.4 M216.6,377h-2.4 M216.6,360.7h-2.4 M216.6,344.4h-2.4 M216.6,328.1h-2.4" stroke="#000" stroke-width="0.7" fill="none"/>
<path d="M216.6,380.3v1.3 M221.03,380.3v1.3 M225.46,380.3v1.3 M229.89,380.3v1.3 M234.32,380.3v1.3 M238.75,380.3v1.3 M243.18,380.3v1.3 M247.61,380.3v1.3 M252.04,380.3v1.3 M256.47,380.3v1.3 M260.9,380.3v1.3 M265.33,380.3v1.3 M269.76,380.3v1.3 M274.19,380.3v1.3 M278.62,380.3v1.3 M283.05,380.3v1.3 M287.48,380.3v1.3 M291.91,380.3v1.3 M296.34,380.3v1.3 M300.77,380.3v1.3 M305.2,380.3v1.3 M309.63,380.3v1.3 M314.06,380.3v1.3 M318.49,380.3v1.3 M322.92,380.3v1.3 M327.35,380.3v1.3 M331.78,380.3v1.3 M336.21,380.3v1.3 M340.64,380.3v1.3 M345.07,380.3v1.3 M349.5,380.3v1.3 M216.6,380.26h-1.3 M216.6,377h-1.3 M216.6,373.74h-1.3 M216.6,370.48h-1.3 M216.6,367.22h-1.3 M216.6,363.96h-1.3 M216.6,360.7h-1.3 M216.6,357.44h-1.3 M216.6,354.18h-1.3 M216.6,350.92h-1.3 M216.6,347.66h-1.3 M216.6,344.4h-1.3 M216.6,341.14h-1.3 M216.6,337.88h-1.3 M216.6,334.62h-1.3 M216.6,331.36h-1.3 M216.6,328.1h-1.3 M216.6,324.84h-1.3 M216.6,321.58h-1.3 M216.6,318.32h-1.3 M216.6,315.06h-1.3" stroke="#222" stroke-width="0.6" fill="none"/>
<text x="283.05" y="400.3" font-size="8.8" text-anchor="middle" fill="#141414" textLength="19.4" lengthAdjust="spacingAndGlyphs">R ('')</text>
<text x="184.4" y="309" font-size="8.8" text-anchor="start" fill="#141414" textLength="10.8" lengthAdjust="spacingAndGlyphs">(F)</text>
<text transform="translate(192.6,346.9) rotate(-90)" x="0" y="0" font-size="8.4" text-anchor="middle" fill="#141414" textLength="36.4" lengthAdjust="spacingAndGlyphs">ΔDEC ('')</text>
<clipPath id="cG"><rect x="39.4" y="409.8" width="133.1" height="66.6"/></clipPath>
<g clip-path="url(#cG)">
<path d="M39.4,454.93 L44.72,454.93 L71.34,454.93 L97.96,454.93 L124.58,454.93 L151.2,454.93" fill="none" stroke="#eca048" stroke-width="1.4"/>
<circle cx="44.72" cy="454.93" r="1.5" fill="#eca048"/>
<circle cx="71.34" cy="454.93" r="1.5" fill="#eca048"/>
<circle cx="97.96" cy="454.93" r="1.5" fill="#eca048"/>
<circle cx="124.58" cy="454.93" r="1.5" fill="#eca048"/>
<circle cx="151.2" cy="454.93" r="1.5" fill="#eca048"/>
<path d="M39.4,456.23 L44.72,456.23 L71.34,456.23 L97.96,456.23 L124.58,456.23 L151.2,456.23" fill="none" stroke="#6e1e6e" stroke-width="0.85"/>
<circle cx="44.72" cy="456.23" r="1.5" fill="#6e1e6e"/>
<circle cx="71.34" cy="456.23" r="1.5" fill="#6e1e6e"/>
<circle cx="97.96" cy="456.23" r="1.5" fill="#6e1e6e"/>
<circle cx="124.58" cy="456.23" r="1.5" fill="#6e1e6e"/>
<circle cx="151.2" cy="456.23" r="1.5" fill="#6e1e6e"/>
<path d="M46.05,458.51 L59.36,458.51 L72.67,458.51 L85.98,458.51 L99.29,458.51 L112.6,458.51 L125.91,458.51 L139.22,458.51 L152.53,458.51 L165.84,458.51" fill="none" stroke="#207a20" stroke-width="0.85"/>
<circle cx="46.05" cy="458.51" r="1.5" fill="#207a20"/>
<circle cx="59.36" cy="458.51" r="1.5" fill="#207a20"/>
<circle cx="72.67" cy="458.51" r="1.5" fill="#207a20"/>
<circle cx="85.98" cy="458.51" r="1.5" fill="#207a20"/>
<circle cx="99.29" cy="458.51" r="1.5" fill="#207a20"/>
<circle cx="112.6" cy="458.51" r="1.5" fill="#207a20"/>
<circle cx="125.91" cy="458.51" r="1.5" fill="#207a20"/>
<circle cx="139.22" cy="458.51" r="1.5" fill="#207a20"/>
<circle cx="152.53" cy="458.51" r="1.5" fill="#207a20"/>
<circle cx="165.84" cy="458.51" r="1.5" fill="#207a20"/>
<path d="M46.05,412.64 L59.36,412.64 L72.67,412.64 L85.98,412.64 L99.29,412.64 L112.6,412.64 L125.91,412.64 L139.22,412.64 L152.53,412.64 L165.84,412.64" fill="none" stroke="#e038e8" stroke-width="0.7"/>
<path d="M44.26,412.64 L47.26,411.04 L47.26,414.24 Z" fill="#b82cc8"/>
<path d="M57.56,412.64 L60.56,411.04 L60.56,414.24 Z" fill="#b82cc8"/>
<path d="M70.88,412.64 L73.88,411.04 L73.88,414.24 Z" fill="#b82cc8"/>
<path d="M84.19,412.64 L87.19,411.04 L87.19,414.24 Z" fill="#b82cc8"/>
<path d="M97.49,412.64 L100.49,411.04 L100.49,414.24 Z" fill="#b82cc8"/>
<path d="M110.8,412.64 L113.8,411.04 L113.8,414.24 Z" fill="#b82cc8"/>
<path d="M124.11,412.64 L127.11,411.04 L127.11,414.24 Z" fill="#b82cc8"/>
<path d="M137.42,412.64 L140.42,411.04 L140.42,414.24 Z" fill="#b82cc8"/>
<path d="M150.73,412.64 L153.73,411.04 L153.73,414.24 Z" fill="#b82cc8"/>
<path d="M164.04,412.64 L167.04,411.04 L167.04,414.24 Z" fill="#b82cc8"/>
<path d="M46.05,473.15 L59.36,473.15 L72.67,473.15 L85.98,473.15 L99.29,473.15" fill="none" stroke="#2222e0" stroke-width="0.85"/>
<circle cx="46.05" cy="473.15" r="1.5" fill="#2222e0"/>
<circle cx="59.36" cy="473.15" r="1.5" fill="#2222e0"/>
<circle cx="72.67" cy="473.15" r="1.5" fill="#2222e0"/>
<circle cx="85.98" cy="473.15" r="1.5" fill="#2222e0"/>
<circle cx="99.29" cy="473.15" r="1.5" fill="#2222e0"/>
<line x1="39.4" x2="172.5" y1="412.64" y2="412.64" stroke="#000" stroke-width="0.9" stroke-dasharray="3.4,1.7"/>
</g>
<rect x="39.4" y="409.8" width="133.1" height="66.6" fill="none" stroke="#000" stroke-width="0.9"/>
<text x="39.4" y="487.7" font-size="7.0" text-anchor="middle" fill="#141414" textLength="4.04" lengthAdjust="spacingAndGlyphs">0</text>
<text x="61.58" y="487.7" font-size="7.0" text-anchor="middle" fill="#141414" textLength="8.08" lengthAdjust="spacingAndGlyphs">25</text>
<text x="83.77" y="487.7" font-size="7.0" text-anchor="middle" fill="#141414" textLength="8.08" lengthAdjust="spacingAndGlyphs">50</text>
<text x="105.95" y="487.7" font-size="7.0" text-anchor="middle" fill="#141414" textLength="8.08" lengthAdjust="spacingAndGlyphs">75</text>
<text x="128.13" y="487.7" font-size="7.0" text-anchor="middle" fill="#141414" textLength="12.12" lengthAdjust="spacingAndGlyphs">100</text>
<text x="150.32" y="487.7" font-size="7.0" text-anchor="middle" fill="#141414" textLength="12.12" lengthAdjust="spacingAndGlyphs">125</text>
<text x="33" y="477.6" font-size="7.0" text-anchor="end" fill="#141414" textLength="16.15" lengthAdjust="spacingAndGlyphs">3755</text>
<text x="33" y="461.33" font-size="7.0" text-anchor="end" fill="#141414" textLength="16.15" lengthAdjust="spacingAndGlyphs">3760</text>
<text x="33" y="445.07" font-size="7.0" text-anchor="end" fill="#141414" textLength="16.15" lengthAdjust="spacingAndGlyphs">3765</text>
<text x="33" y="428.8" font-size="7.0" text-anchor="end" fill="#141414" textLength="16.15" lengthAdjust="spacingAndGlyphs">3770</text>
<path d="M39.4,476.4v2.4 M61.58,476.4v2.4 M83.77,476.4v2.4 M105.95,476.4v2.4 M128.13,476.4v2.4 M150.32,476.4v2.4 M39.4,475.1h-2.4 M39.4,458.83h-2.4 M39.4,442.57h-2.4 M39.4,426.3h-2.4" stroke="#000" stroke-width="0.7" fill="none"/>
<path d="M39.4,476.4v1.3 M43.84,476.4v1.3 M48.27,476.4v1.3 M52.71,476.4v1.3 M57.15,476.4v1.3 M61.58,476.4v1.3 M66.02,476.4v1.3 M70.46,476.4v1.3 M74.89,476.4v1.3 M79.33,476.4v1.3 M83.77,476.4v1.3 M88.2,476.4v1.3 M92.64,476.4v1.3 M97.08,476.4v1.3 M101.51,476.4v1.3 M105.95,476.4v1.3 M110.39,476.4v1.3 M114.82,476.4v1.3 M119.26,476.4v1.3 M123.7,476.4v1.3 M128.13,476.4v1.3 M132.57,476.4v1.3 M137.01,476.4v1.3 M141.44,476.4v1.3 M145.88,476.4v1.3 M150.32,476.4v1.3 M154.75,476.4v1.3 M159.19,476.4v1.3 M163.63,476.4v1.3 M168.06,476.4v1.3 M172.5,476.4v1.3 M39.4,475.1h-1.3 M39.4,471.85h-1.3 M39.4,468.59h-1.3 M39.4,465.34h-1.3 M39.4,462.09h-1.3 M39.4,458.83h-1.3 M39.4,455.58h-1.3 M39.4,452.33h-1.3 M39.4,449.07h-1.3 M39.4,445.82h-1.3 M39.4,442.57h-1.3 M39.4,439.31h-1.3 M39.4,436.06h-1.3 M39.4,432.81h-1.3 M39.4,429.55h-1.3 M39.4,426.3h-1.3 M39.4,423.05h-1.3 M39.4,419.79h-1.3 M39.4,416.54h-1.3 M39.4,413.29h-1.3 M39.4,410.03h-1.3" stroke="#222" stroke-width="0.6" fill="none"/>
<text x="105.95" y="496.4" font-size="8.8" text-anchor="middle" fill="#141414" textLength="19.4" lengthAdjust="spacingAndGlyphs">R ('')</text>
<text x="3.3" y="407.1" font-size="8.8" text-anchor="start" fill="#141414" textLength="10.8" lengthAdjust="spacingAndGlyphs">(G)</text>
<text transform="translate(11.9,443) rotate(-90)" x="0" y="0" font-size="8.4" text-anchor="middle" fill="#141414" textLength="45" lengthAdjust="spacingAndGlyphs"><tspan font-style="italic">V</tspan><tspan font-size="5.6" dy="1.6"><tspan font-style="italic">sys</tspan></tspan><tspan dy="-1.6"> (km/s)</tspan></text>
<clipPath id="cH"><rect x="216.6" y="409.8" width="132.9" height="66.6"/></clipPath>
<g clip-path="url(#cH)">
<path d="M216.6,459.97 L221.92,459.97 L248.5,459.97 L275.08,459.97 L301.66,459.97 L328.24,459.97" fill="none" stroke="#d02424" stroke-width="0.85"/>
<circle cx="221.92" cy="459.97" r="1.5" fill="#d02424"/>
<circle cx="248.5" cy="459.97" r="1.5" fill="#d02424"/>
<circle cx="275.08" cy="459.97" r="1.5" fill="#d02424"/>
<circle cx="301.66" cy="459.97" r="1.5" fill="#d02424"/>
<circle cx="328.24" cy="459.97" r="1.5" fill="#d02424"/>
<path d="M216.6,460.2 L221.92,460.2 L248.5,460.2 L275.08,460.2 L301.66,460.2 L328.24,460.2" fill="none" stroke="#6e1e6e" stroke-width="1.2"/>
<circle cx="221.92" cy="460.2" r="1.5" fill="#6e1e6e"/>
<circle cx="248.5" cy="460.2" r="1.5" fill="#6e1e6e"/>
<circle cx="275.08" cy="460.2" r="1.5" fill="#6e1e6e"/>
<circle cx="301.66" cy="460.2" r="1.5" fill="#6e1e6e"/>
<circle cx="328.24" cy="460.2" r="1.5" fill="#6e1e6e"/>
<path d="M216.6,459.49 L221.92,459.49 L248.5,459.49 L275.08,459.49 L301.66,459.49 L328.24,459.49" fill="none" stroke="#eca048" stroke-width="0.85"/>
<circle cx="221.92" cy="459.49" r="1.5" fill="#eca048"/>
<circle cx="248.5" cy="459.49" r="1.5" fill="#eca048"/>
<circle cx="275.08" cy="459.49" r="1.5" fill="#eca048"/>
<circle cx="301.66" cy="459.49" r="1.5" fill="#eca048"/>
<circle cx="328.24" cy="459.49" r="1.5" fill="#eca048"/>
<path d="M223.25,459.73 L236.53,459.73 L249.82,459.73 L263.12,459.73 L276.4,459.73 L289.69,459.73 L302.99,459.73 L316.27,459.73 L329.56,459.73 L342.86,459.73" fill="none" stroke="#e038e8" stroke-width="0.85"/>
<circle cx="223.25" cy="459.73" r="1.5" fill="#e038e8"/>
<circle cx="236.53" cy="459.73" r="1.5" fill="#e038e8"/>
<circle cx="249.82" cy="459.73" r="1.5" fill="#e038e8"/>
<circle cx="263.12" cy="459.73" r="1.5" fill="#e038e8"/>
<circle cx="276.4" cy="459.73" r="1.5" fill="#e038e8"/>
<circle cx="289.69" cy="459.73" r="1.5" fill="#e038e8"/>
<circle cx="302.99" cy="459.73" r="1.5" fill="#e038e8"/>
<circle cx="316.27" cy="459.73" r="1.5" fill="#e038e8"/>
<circle cx="329.56" cy="459.73" r="1.5" fill="#e038e8"/>
<circle cx="342.86" cy="459.73" r="1.5" fill="#e038e8"/>
<path d="M223.25,454.17 L236.53,456.89 L249.82,459.73 L263.12,423.66 L276.4,450.62 L289.69,454.53 L302.99,459.14 L316.27,461.74 L329.56,468.13 L342.86,470.25" fill="none" stroke="#207a20" stroke-width="0.85"/>
<line x1="223.25" x2="223.25" y1="458.67" y2="446.96" stroke="#207a20" stroke-width="0.8" opacity="0.9"/>
<line x1="236.53" x2="236.53" y1="465.05" y2="451.57" stroke="#207a20" stroke-width="0.8" opacity="0.9"/>
<line x1="249.82" x2="249.82" y1="467.53" y2="455.95" stroke="#207a20" stroke-width="0.8" opacity="0.9"/>
<line x1="263.12" x2="263.12" y1="433.12" y2="413.02" stroke="#207a20" stroke-width="0.8" opacity="0.9"/>
<line x1="276.4" x2="276.4" y1="457.72" y2="443.53" stroke="#207a20" stroke-width="0.8" opacity="0.9"/>
<line x1="289.69" x2="289.69" y1="458.07" y2="450.98" stroke="#207a20" stroke-width="0.8" opacity="0.9"/>
<line x1="302.99" x2="302.99" y1="466.23" y2="452.04" stroke="#207a20" stroke-width="0.8" opacity="0.9"/>
<line x1="316.27" x2="316.27" y1="464.11" y2="459.38" stroke="#207a20" stroke-width="0.8" opacity="0.9"/>
<line x1="329.56" x2="329.56" y1="470.49" y2="465.76" stroke="#207a20" stroke-width="0.8" opacity="0.9"/>
<line x1="342.86" x2="342.86" y1="471.44" y2="469.07" stroke="#207a20" stroke-width="0.8" opacity="0.9"/>
<circle cx="223.25" cy="454.17" r="1.5" fill="#207a20"/>
<circle cx="236.53" cy="456.89" r="1.5" fill="#207a20"/>
<circle cx="249.82" cy="459.73" r="1.5" fill="#207a20"/>
<circle cx="263.12" cy="423.66" r="1.5" fill="#207a20"/>
<circle cx="276.4" cy="450.62" r="1.5" fill="#207a20"/>
<circle cx="289.69" cy="454.53" r="1.5" fill="#207a20"/>
<circle cx="302.99" cy="459.14" r="1.5" fill="#207a20"/>
<circle cx="316.27" cy="461.74" r="1.5" fill="#207a20"/>
<circle cx="329.56" cy="468.13" r="1.5" fill="#207a20"/>
<circle cx="342.86" cy="470.25" r="1.5" fill="#207a20"/>
</g>
<rect x="216.6" y="409.8" width="132.9" height="66.6" fill="none" stroke="#000" stroke-width="0.9"/>
<text x="216.6" y="487.7" font-size="7.0" text-anchor="middle" fill="#141414" textLength="4.04" lengthAdjust="spacingAndGlyphs">0</text>
<text x="238.75" y="487.7" font-size="7.0" text-anchor="middle" fill="#141414" textLength="8.08" lengthAdjust="spacingAndGlyphs">25</text>
<text x="260.9" y="487.7" font-size="7.0" text-anchor="middle" fill="#141414" textLength="8.08" lengthAdjust="spacingAndGlyphs">50</text>
<text x="283.05" y="487.7" font-size="7.0" text-anchor="middle" fill="#141414" textLength="8.08" lengthAdjust="spacingAndGlyphs">75</text>
<text x="305.2" y="487.7" font-size="7.0" text-anchor="middle" fill="#141414" textLength="12.12" lengthAdjust="spacingAndGlyphs">100</text>
<text x="327.35" y="487.7" font-size="7.0" text-anchor="middle" fill="#141414" textLength="12.12" lengthAdjust="spacingAndGlyphs">125</text>
<text x="210.2" y="473.7" font-size="7.0" text-anchor="end" fill="#141414" textLength="4.04" lengthAdjust="spacingAndGlyphs">0</text>
<text x="210.2" y="450.05" font-size="7.0" text-anchor="end" fill="#141414" textLength="8.08" lengthAdjust="spacingAndGlyphs">20</text>
<text x="210.2" y="426.4" font-size="7.0" text-anchor="end" fill="#141414" textLength="8.08" lengthAdjust="spacingAndGlyphs">40</text>
<path d="M216.6,476.4v2.4 M238.75,476.4v2.4 M260.9,476.4v2.4 M283.05,476.4v2.4 M305.2,476.4v2.4 M327.35,476.4v2.4 M216.6,471.2h-2.4 M216.6,447.55h-2.4 M216.6,423.9h-2.4" stroke="#000" stroke-width="0.7" fill="none"/>
<path d="M216.6,476.4v1.3 M221.03,476.4v1.3 M225.46,476.4v1.3 M229.89,476.4v1.3 M234.32,476.4v1.3 M238.75,476.4v1.3 M243.18,476.4v1.3 M247.61,476.4v1.3 M252.04,476.4v1.3 M256.47,476.4v1.3 M260.9,476.4v1.3 M265.33,476.4v1.3 M269.76,476.4v1.3 M274.19,476.4v1.3 M278.62,476.4v1.3 M283.05,476.4v1.3 M287.48,476.4v1.3 M291.91,476.4v1.3 M296.34,476.4v1.3 M300.77,476.4v1.3 M305.2,476.4v1.3 M309.63,476.4v1.3 M314.06,476.4v1.3 M318.49,476.4v1.3 M322.92,476.4v1.3 M327.35,476.4v1.3 M331.78,476.4v1.3 M336.21,476.4v1.3 M340.64,476.4v1.3 M345.07,476.4v1.3 M349.5,476.4v1.3 M216.6,475.93h-1.3 M216.6,471.2h-1.3 M216.6,466.47h-1.3 M216.6,461.74h-1.3 M216.6,457.01h-1.3 M216.6,452.28h-1.3 M216.6,447.55h-1.3 M216.6,442.82h-1.3 M216.6,438.09h-1.3 M216.6,433.36h-1.3 M216.6,428.63h-1.3 M216.6,423.9h-1.3 M216.6,419.17h-1.3 M216.6,414.44h-1.3" stroke="#222" stroke-width="0.6" fill="none"/>
<text x="283.05" y="496.4" font-size="8.8" text-anchor="middle" fill="#141414" textLength="19.4" lengthAdjust="spacingAndGlyphs">R ('')</text>
<text x="184.4" y="407.1" font-size="8.8" text-anchor="start" fill="#141414" textLength="10.8" lengthAdjust="spacingAndGlyphs">(H)</text>
<text transform="translate(197.8,442.7) rotate(-90)" x="0" y="0" font-size="8.4" text-anchor="middle" fill="#141414" textLength="33.6" lengthAdjust="spacingAndGlyphs"><tspan font-style="italic">σ</tspan> (km/s)</text>
<defs>
<linearGradient id="vir" x1="0" y1="1" x2="0" y2="0">
<stop offset="0" stop-color="#440154"/><stop offset="0.1" stop-color="#482475"/><stop offset="0.2" stop-color="#414487"/><stop offset="0.3" stop-color="#355f8d"/><stop offset="0.4" stop-color="#2a788e"/><stop offset="0.5" stop-color="#21918c"/><stop offset="0.6" stop-color="#22a884"/><stop offset="0.7" stop-color="#44bf70"/><stop offset="0.8" stop-color="#7ad151"/><stop offset="0.9" stop-color="#bddf26"/><stop offset="1" stop-color="#fde725"/>
</linearGradient>
<linearGradient id="jet" x1="0" y1="1" x2="0" y2="0">
<stop offset="0" stop-color="#000080"/><stop offset="0.11" stop-color="#0000ff"/><stop offset="0.125" stop-color="#0000ff"/><stop offset="0.375" stop-color="#00ffff"/><stop offset="0.625" stop-color="#ffff00"/><stop offset="0.875" stop-color="#ff0000"/><stop offset="1" stop-color="#800000"/>
</linearGradient>
<linearGradient id="vf" gradientUnits="userSpaceOnUse" x1="292" y1="24" x2="240" y2="72">
<stop offset="0" stop-color="#0018ff"/><stop offset="0.127" stop-color="#0040ff"/><stop offset="0.265" stop-color="#0090ff"/><stop offset="0.354" stop-color="#00d0ff"/><stop offset="0.44" stop-color="#40ffb0"/><stop offset="0.54" stop-color="#e0ff20"/><stop offset="0.656" stop-color="#ff9000"/><stop offset="0.88" stop-color="#ff3000"/><stop offset="1" stop-color="#ff2400"/>
</linearGradient>
<filter id="b1" x="-50%" y="-50%" width="200%" height="200%"><feGaussianBlur stdDeviation="3"/></filter>
<filter id="b2" x="-50%" y="-50%" width="200%" height="200%"><feGaussianBlur stdDeviation="2"/></filter>
<filter id="b3" x="-50%" y="-50%" width="200%" height="200%"><feGaussianBlur stdDeviation="1.5"/></filter>
<clipPath id="m0clip"><rect x="45.6" y="8.2" width="86.9" height="83.0"/></clipPath>
</defs>
<rect x="45.6" y="8.2" width="86.9" height="83.0" fill="#440154"/>
<g clip-path="url(#m0clip)"><g transform="translate(90.8,49.8) rotate(-42.7)">
<ellipse cx="-1" cy="0" rx="38" ry="10" fill="#48307c" opacity="0.75" filter="url(#b1)"/>
<ellipse cx="0" cy="0" rx="30" ry="6.2" fill="#2f6b8e" filter="url(#b2)"/>
<ellipse cx="3" cy="-0.3" rx="22" ry="4.8" fill="#35b779" filter="url(#b3)"/>
<ellipse cx="-3" cy="-0.6" rx="6.5" ry="3.2" fill="#c8e030" filter="url(#b3)"/>
<ellipse cx="11" cy="0" rx="6.5" ry="3.2" fill="#bcdf34" filter="url(#b3)"/>
<ellipse cx="-14" cy="8" rx="4" ry="3" fill="#5a4a90" opacity="0.5" filter="url(#b2)"/>
<ellipse cx="20" cy="-8" rx="4" ry="2.5" fill="#5a4a90" opacity="0.4" filter="url(#b2)"/>
</g></g>
<circle cx="54" cy="83.5" r="3.4" fill="none" stroke="#4ec3ea" stroke-width="1.1"/>
<rect x="45.6" y="8.2" width="86.9" height="83" fill="none" stroke="#000" stroke-width="0.9"/>
<text x="65.6" y="102.8" font-size="7.0" text-anchor="middle" fill="#141414" textLength="12.12" lengthAdjust="spacingAndGlyphs">100</text>
<text x="88.7" y="102.8" font-size="7.0" text-anchor="middle" fill="#141414" textLength="4.04" lengthAdjust="spacingAndGlyphs">0</text>
<text x="111.4" y="102.8" font-size="7.0" text-anchor="middle" fill="#141414" textLength="17.44" lengthAdjust="spacingAndGlyphs">−100</text>
<text x="39" y="30.9" font-size="7.0" text-anchor="end" fill="#141414" textLength="12.12" lengthAdjust="spacingAndGlyphs">100</text>
<text x="39" y="54" font-size="7.0" text-anchor="end" fill="#141414" textLength="4.04" lengthAdjust="spacingAndGlyphs">0</text>
<text x="39" y="77.2" font-size="7.0" text-anchor="end" fill="#141414" textLength="17.44" lengthAdjust="spacingAndGlyphs">−100</text>
<path d="M65.6,91.2v2.4 M88.7,91.2v2.4 M111.4,91.2v2.4 M45.6,28.4h-2.4 M45.6,51.5h-2.4 M45.6,74.7h-2.4" stroke="#000" stroke-width="0.7" fill="none"/>
<path d="M48.27,91.2v1.3 M54.05,91.2v1.3 M59.82,91.2v1.3 M65.6,91.2v1.3 M71.38,91.2v1.3 M77.15,91.2v1.3 M82.93,91.2v1.3 M88.7,91.2v1.3 M94.48,91.2v1.3 M100.25,91.2v1.3 M106.03,91.2v1.3 M111.8,91.2v1.3 M117.58,91.2v1.3 M123.35,91.2v1.3 M129.13,91.2v1.3 M45.6,11.08h-1.3 M45.6,16.85h-1.3 M45.6,22.62h-1.3 M45.6,28.4h-1.3 M45.6,34.17h-1.3 M45.6,39.95h-1.3 M45.6,45.72h-1.3 M45.6,51.5h-1.3 M45.6,57.27h-1.3 M45.6,63.05h-1.3 M45.6,68.82h-1.3 M45.6,74.6h-1.3 M45.6,80.38h-1.3 M45.6,86.15h-1.3" stroke="#222" stroke-width="0.6" fill="none"/>
<text x="89.05" y="111.7" font-size="8.8" text-anchor="middle" fill="#141414" textLength="32.8" lengthAdjust="spacingAndGlyphs">Δ RA ('')</text>
<text transform="translate(18.6,50.1) rotate(-90)" x="0" y="0" font-size="8.4" text-anchor="middle" fill="#141414" textLength="40" lengthAdjust="spacingAndGlyphs">Δ DEC ('')</text>
<text x="90" y="5" font-size="7.2" text-anchor="middle" fill="#141414" textLength="31.5" lengthAdjust="spacingAndGlyphs">Moment 0</text>
<rect x="133.9" y="8.4" width="5.3" height="82.8" fill="url(#vir)" stroke="#000" stroke-width="0.7"/>
<text x="145" y="93.7" font-size="7.0" text-anchor="start" fill="#141414" textLength="4.04" lengthAdjust="spacingAndGlyphs">0</text>
<text x="145" y="70.9" font-size="7.0" text-anchor="start" fill="#141414" textLength="4.04" lengthAdjust="spacingAndGlyphs">5</text>
<text x="145" y="48.2" font-size="7.0" text-anchor="start" fill="#141414" textLength="8.08" lengthAdjust="spacingAndGlyphs">10</text>
<text x="145" y="26.1" font-size="7.0" text-anchor="start" fill="#141414" textLength="8.08" lengthAdjust="spacingAndGlyphs">15</text>
<path d="M139.2,91.2h2.2 M139.2,68.4h2.2 M139.2,45.7h2.2 M139.2,23.6h2.2" stroke="#000" stroke-width="0.7" fill="none"/>
<text transform="translate(162.6,49.8) rotate(-90)" x="0" y="0" font-size="8.4" text-anchor="middle" fill="#141414" textLength="47" lengthAdjust="spacingAndGlyphs">Σ (M<tspan font-size="5.6" dy="1.6">o</tspan><tspan dy="-1.6"> pc</tspan><tspan font-size="5.6" dy="-3">−2</tspan><tspan dy="3">)</tspan></text>
<rect x="223.6" y="8.2" width="86.8" height="83.0" fill="#fff"/>
<path d="M279.6,24.3 L285.9,21.8 L293.4,23.1 L295.9,26.9 L296.8,35.7 L294.5,42.5 L289.5,49.5 L284.5,53.5 L278.3,55.8 L273.3,59.5 L267,62.1 L268.2,67.5 L264,72 L258.5,74.5 L253.2,75.6 L248.1,77.1 L244.4,75.9 L240.6,69.6 L238.4,66 L238.1,62.1 L240.6,55.8 L244,54.8 L248.1,50.7 L255.7,45.7 L263.2,40.7 L270.8,35.7 L278.3,28.1 Z" fill="url(#vf)"/>
<path d="M262,35.3 L265.5,31.2 L271.5,29 L274.5,29.8 L269,33.8 L263.5,36.8 Z" fill="url(#vf)"/>
<path d="M240,53 L242.5,51.8 L244,54.5 L241,56 Z" fill="#ff4000"/>
<path d="M267.5,60.5 L271,59.5 L275.5,61 L276,65.5 L272.5,68.3 L268.5,67.8 L266.8,64 Z" fill="#a8ff50"/>
<path d="M295.4,37.2 L292,43.5 L287.5,48.8 L282.3,52.2 L283.3,50 L287.8,45.5 L291.6,40.2 Z" fill="#fff"/>
<path d="M255.5,71.5 L258.5,67 L263,65 L266.8,64.6 L267.2,67 L263,70.5 L258.5,72.5 Z" fill="#fff"/>
<path d="M248.1,47.2 L278.5,25.8" stroke="#000" stroke-width="0.75" stroke-dasharray="0.7,1.8" stroke-linecap="round" fill="none"/>
<path d="M295.2,37.5 L282.4,52 M273.2,59.3 L283.3,53.2" stroke="#000" stroke-width="0.75" stroke-dasharray="0.7,1.9" stroke-linecap="round" fill="none"/>
<path d="M255.8,71.5 L266.8,64.8" stroke="#000" stroke-width="0.7" stroke-dasharray="0.6,2" stroke-linecap="round" fill="none"/>
<rect x="223.6" y="8.2" width="86.8" height="83" fill="none" stroke="#000" stroke-width="0.9"/>
<text x="243.5" y="102.8" font-size="7.0" text-anchor="middle" fill="#141414" textLength="12.12" lengthAdjust="spacingAndGlyphs">100</text>
<text x="266.6" y="102.8" font-size="7.0" text-anchor="middle" fill="#141414" textLength="4.04" lengthAdjust="spacingAndGlyphs">0</text>
<text x="289.4" y="102.8" font-size="7.0" text-anchor="middle" fill="#141414" textLength="17.44" lengthAdjust="spacingAndGlyphs">−100</text>
<text x="217" y="30.9" font-size="7.0" text-anchor="end" fill="#141414" textLength="12.12" lengthAdjust="spacingAndGlyphs">100</text>
<text x="217" y="54" font-size="7.0" text-anchor="end" fill="#141414" textLength="4.04" lengthAdjust="spacingAndGlyphs">0</text>
<text x="217" y="77.2" font-size="7.0" text-anchor="end" fill="#141414" textLength="17.44" lengthAdjust="spacingAndGlyphs">−100</text>
<path d="M243.5,91.2v2.4 M266.6,91.2v2.4 M289.4,91.2v2.4 M223.6,28.4h-2.4 M223.6,51.5h-2.4 M223.6,74.7h-2.4" stroke="#000" stroke-width="0.7" fill="none"/>
<path d="M226.17,91.2v1.3 M231.95,91.2v1.3 M237.72,91.2v1.3 M243.5,91.2v1.3 M249.28,91.2v1.3 M255.05,91.2v1.3 M260.83,91.2v1.3 M266.6,91.2v1.3 M272.38,91.2v1.3 M278.15,91.2v1.3 M283.92,91.2v1.3 M289.7,91.2v1.3 M295.47,91.2v1.3 M301.25,91.2v1.3 M307.02,91.2v1.3 M223.6,11.08h-1.3 M223.6,16.85h-1.3 M223.6,22.62h-1.3 M223.6,28.4h-1.3 M223.6,34.17h-1.3 M223.6,39.95h-1.3 M223.6,45.72h-1.3 M223.6,51.5h-1.3 M223.6,57.27h-1.3 M223.6,63.05h-1.3 M223.6,68.82h-1.3 M223.6,74.6h-1.3 M223.6,80.38h-1.3 M223.6,86.15h-1.3" stroke="#222" stroke-width="0.6" fill="none"/>
<text x="267" y="111.7" font-size="8.8" text-anchor="middle" fill="#141414" textLength="32.8" lengthAdjust="spacingAndGlyphs">Δ RA ('')</text>
<text transform="translate(196.6,50.1) rotate(-90)" x="0" y="0" font-size="8.4" text-anchor="middle" fill="#141414" textLength="40" lengthAdjust="spacingAndGlyphs">Δ DEC ('')</text>
<text x="267.1" y="5" font-size="7.2" text-anchor="middle" fill="#141414" textLength="31.5" lengthAdjust="spacingAndGlyphs">Moment 1</text>
<rect x="311.3" y="8.3" width="5.6" height="82.9" fill="url(#jet)" stroke="#000" stroke-width="0.7"/>
<text x="322.7" y="91" font-size="7.0" text-anchor="start" fill="#141414" textLength="16.15" lengthAdjust="spacingAndGlyphs">3500</text>
<text x="322.7" y="76.3" font-size="7.0" text-anchor="start" fill="#141414" textLength="16.15" lengthAdjust="spacingAndGlyphs">3600</text>
<text x="322.7" y="61.9" font-size="7.0" text-anchor="start" fill="#141414" textLength="16.15" lengthAdjust="spacingAndGlyphs">3700</text>
<text x="322.7" y="47" font-size="7.0" text-anchor="start" fill="#141414" textLength="16.15" lengthAdjust="spacingAndGlyphs">3800</text>
<text x="322.7" y="32.2" font-size="7.0" text-anchor="start" fill="#141414" textLength="16.15" lengthAdjust="spacingAndGlyphs">3900</text>
<text x="322.7" y="17.7" font-size="7.0" text-anchor="start" fill="#141414" textLength="16.15" lengthAdjust="spacingAndGlyphs">4000</text>
<path d="M316.9,88.5h2.2 M316.9,73.8h2.2 M316.9,59.4h2.2 M316.9,44.5h2.2 M316.9,29.7h2.2 M316.9,15.2h2.2" stroke="#000" stroke-width="0.7" fill="none"/>
<text transform="translate(346.6,49.75) rotate(-90)" x="0" y="0" font-size="8.4" text-anchor="middle" fill="#141414" textLength="52.5" lengthAdjust="spacingAndGlyphs"><tspan font-style="italic">V</tspan><tspan font-size="5.6" dy="1.6">los</tspan><tspan dy="-1.6"> (km s</tspan><tspan font-size="5.6" dy="-3">−1</tspan><tspan dy="3">)</tspan></text>
<rect x="65.1" y="504.1" width="243.9" height="34.3" rx="1.5" fill="#fff" stroke="#dcdcdc" stroke-width="0.8"/>
<line x1="67.6" x2="83" y1="509.4" y2="509.4" stroke="#d02424" stroke-width="0.9"/>
<text x="88.7" y="512.3" font-size="8.0" text-anchor="start" fill="#141414" textLength="75" lengthAdjust="spacingAndGlyphs">Barolo_smooth_auto</text>
<line x1="67.6" x2="83" y1="520.55" y2="520.55" stroke="#2222e0" stroke-width="0.9"/>
<text x="88.7" y="523.45" font-size="8.0" text-anchor="start" fill="#141414" textLength="59" lengthAdjust="spacingAndGlyphs">Barolo_full_auto</text>
<line x1="67.6" x2="83" y1="531.7" y2="531.7" stroke="#207a20" stroke-width="0.9"/>
<text x="88.7" y="534.6" font-size="8.0" text-anchor="start" fill="#141414" textLength="98" lengthAdjust="spacingAndGlyphs">Barolo_auto_smooth_vdisp</text>
<line x1="202" x2="217.4" y1="509.5" y2="509.5" stroke="#e038e8" stroke-width="0.9"/>
<text x="222.9" y="512.4" font-size="8.0" text-anchor="start" fill="#141414" textLength="82.9" lengthAdjust="spacingAndGlyphs">Barolo_smooth_source</text>
<line x1="202" x2="217.4" y1="520.65" y2="520.65" stroke="#6e1e6e" stroke-width="0.9"/>
<text x="222.9" y="523.55" font-size="8.0" text-anchor="start" fill="#141414" textLength="63.9" lengthAdjust="spacingAndGlyphs">FAT_smooth_auto</text>
<line x1="202" x2="217.4" y1="531.8" y2="531.8" stroke="#eca048" stroke-width="0.9"/>
<text x="222.9" y="534.7" font-size="8.0" text-anchor="start" fill="#141414" textLength="48.2" lengthAdjust="spacingAndGlyphs">FAT_full_auto</text>
</svg></body></html>
